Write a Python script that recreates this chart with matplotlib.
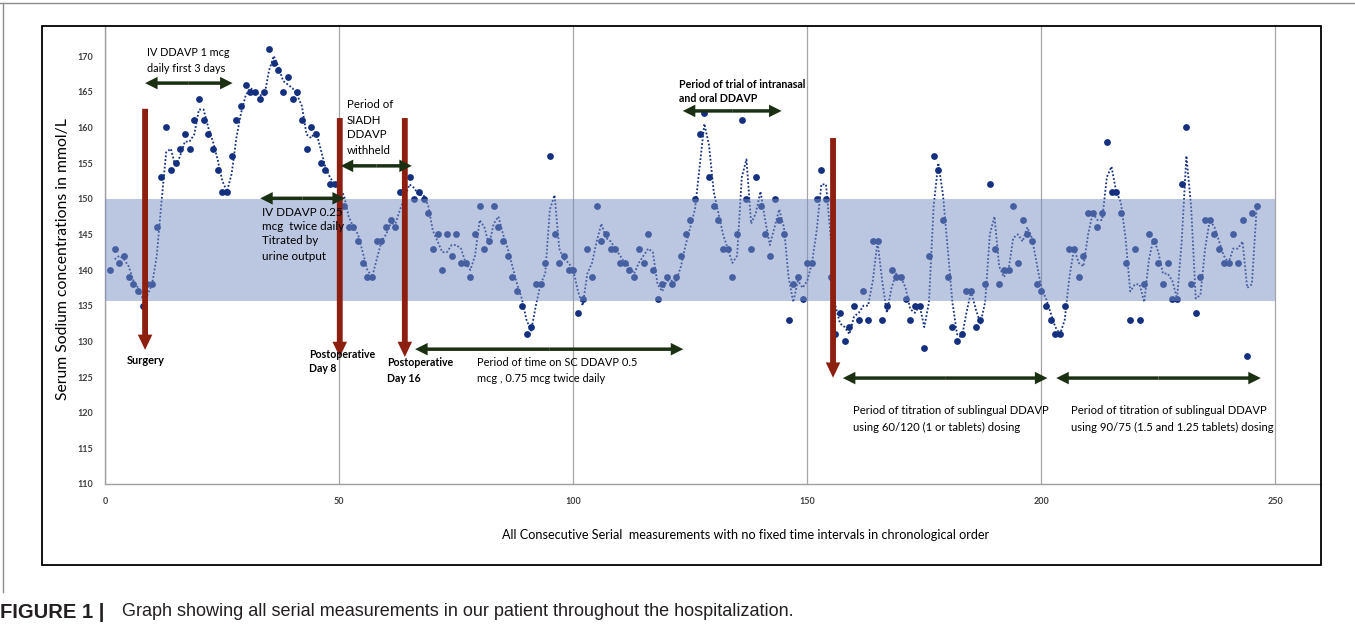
import matplotlib
matplotlib.use('Agg')
import matplotlib.pyplot as plt
import pandas as pd
from matplotlib.patches import Rectangle
from matplotlib.lines import Line2D

W, H = 1355, 631

# ---------------- data ----------------
measurement = list(range(1, 50)) + list(range(51, 64)) + list(range(65, 247))
sodium = [
    140, 143, 141, 142, 139, 138, 137, 135, 138, 138,
    146, 153, 160, 154, 155, 157, 159, 157, 161, 164,
    161, 159, 157, 154, 151, 151, 156, 161, 163, 166,
    165, 165, 164, 165, 171, 169, 168, 165, 167, 164,
    165, 161, 157, 160, 159, 155, 154, 152, 152,
    149, 146, 146, 144, 141, 139, 139, 144, 144, 146, 147, 146, 151,
    153, 150, 151, 150, 148, 143, 145, 140, 145, 142,
    145, 141, 141, 139, 145, 149, 143, 144, 149, 146,
    144, 142, 139, 137, 135, 131, 132, 138, 138, 141,
    156, 145, 141, 142, 140, 140,
    134, 136, 143, 139, 149, 144, 145, 143, 143, 141,
    141, 140, 139, 143, 141, 145, 140, 136, 138, 139,
    138, 139, 142, 145, 147, 150, 159, 162, 153, 149,
    147, 143, 143, 139, 145, 161, 150, 143, 153, 149,
    145, 142, 150, 147, 145, 133, 138, 139, 136, 141,
    141, 150, 154, 150, 139, 131, 134, 130, 132, 135,
    133, 137, 133, 144, 144, 133, 135, 140, 139, 139,
    136, 133, 135, 135, 129, 142, 156, 154, 147, 139,
    132, 130, 131, 137, 137, 132, 133, 138, 152, 143,
    138, 140, 140, 149, 141, 147, 145, 144, 138, 137,
    135, 133, 131, 131, 135, 143, 143, 139, 142, 148,
    148, 146, 148, 158, 151, 151, 148, 141, 133, 143,
    133, 138, 145, 144, 141, 138, 141, 136, 136, 152,
    160, 138, 134, 139, 147, 147, 145, 143, 141, 141,
    145, 141, 147, 128, 148, 149,
]
x_ticks = [0, 50, 100, 150, 200, 250]
y_ticks = list(range(110, 171, 5))
normal_low, normal_high = 135.6, 150.0
band_x = [0, 250]

# event arrows (x, top, tip)
event_x = [8.5, 50.1, 64.0, 155.5]
event_top = [162.6, 161.3, 161.3, 158.5]
event_tip = [128.8, 127.8, 127.8, 124.9]

# period double arrows (start, end, level)
period_start = [8.5, 33.1, 50.3, 66.2, 123.4, 157.6, 203.2]
period_end = [27.2, 51.2, 65.5, 123.5, 144.5, 201.3, 246.9]
period_level = [166.2, 150.05, 154.6, 128.9, 162.3, 124.85, 124.85]

# ---------------- figure ----------------
fig = plt.figure(figsize=(W / 100, H / 100), dpi=100)
ax_l, ax_r, ax_t, ax_b = 105.3, 1321, 26, 484
ax = fig.add_axes([ax_l / W, 1 - ax_b / H, (ax_r - ax_l) / W, (ax_b - ax_t) / H])
ax.set_xlim(0, (ax_r - ax_l) / 4.68)
ax.set_ylim(110, 170 + (56 - ax_t) / 7.133)

navy = '#14307f'
ax.plot(measurement, sodium, 'o', color=navy, ms=4.9, mec='none', zorder=3)
ma = pd.Series(sodium).rolling(2).mean()
ax.plot(measurement, ma, color=navy, lw=1.3, ls=(0, (1, 1.1)), zorder=3)
ax.fill_between(band_x, normal_low, normal_high, color='#798ec4', alpha=0.5,
                lw=0, zorder=4)

for s in ['top', 'right']:
    ax.spines[s].set_visible(False)
for s in ['left', 'bottom']:
    ax.spines[s].set_color('#a0a0a0')
    ax.spines[s].set_linewidth(1.0)
ax.set_xticks(x_ticks)
ax.set_yticks(y_ticks)
ax.tick_params(length=0, labelsize=6.5, labelcolor='#404040', pad=9)
for lab in ax.get_xticklabels() + ax.get_yticklabels():
    lab.set_fontweight('bold')
    lab.set_family('Lato')
ax.grid(axis='x', color='#a6a6a6', lw=0.9, zorder=1)
ax.set_axisbelow(True)

red = '#8c1f0f'
for x, top, tip in zip(event_x, event_top, event_tip):
    ax.annotate('', xy=(x, tip), xytext=(x, top),
                arrowprops=dict(arrowstyle='simple,head_length=11,head_width=10.5,tail_width=4.2',
                                mutation_scale=1, color=red, lw=0,
                                shrinkA=0, shrinkB=0), zorder=6)

green = '#1b3012'
for a, b, lev in zip(period_start, period_end, period_level):
    mid = (a + b) / 2
    for end in (a, b):
        ax.annotate('', xy=(end, lev), xytext=(mid, lev),
                    arrowprops=dict(arrowstyle='simple,head_length=9,head_width=9,tail_width=2.5',
                                    mutation_scale=1, color=green, lw=0,
                                    shrinkA=0, shrinkB=0), zorder=6)

# outer chart frame and page frame
fig.add_artist(Rectangle((42 / W, 1 - 565 / H), (1321 - 42) / W, (565 - 26) / H,
                         transform=fig.transFigure, fill=False, ec='black', lw=1.3))
fig.add_artist(Line2D([0, 1], [1 - 3 / H, 1 - 3 / H], transform=fig.transFigure,
                      color='#8c8c8c', lw=1))
fig.add_artist(Line2D([3 / W, 3 / W], [1 - 3 / H, 1 - 592 / H], transform=fig.transFigure,
                      color='#8c8c8c', lw=1))

renderer = fig.canvas.get_renderer()


def put(x, y, s, size=8, weight='normal', family='Lato', ha='left', rot=0, color='black'):
    return fig.text(x / W, 1 - y / H, s, fontsize=size, fontweight=weight, family=family,
                    ha=ha, va='center', rotation=rot, color=color)


def fit_group(lines, ref_idx, target_w, weight='normal', family='Lato', ha='left', rot=0,
              color='black'):
    texts = [put(x, y, s, 10, weight, family, ha, rot, color) for (x, y, s) in lines]
    bb = texts[ref_idx].get_window_extent(renderer)
    w = bb.height if rot else bb.width
    size = 10 * target_w / w
    for t in texts:
        t.set_fontsize(size)
    return texts


# axis titles
fit_group([(63, 259, 'Serum Sodium concentrations in mmol/L')], 0, 283, rot=90, ha='center')
fit_group([(746, 535, 'All Consecutive Serial  measurements with no fixed time intervals in chronological order')],
          0, 487, ha='center')

# annotations (regular)
fit_group([(147, 53, 'IV DDAVP 1 mcg'), (147, 68, 'daily first 3 days')], 0, 82)
fit_group([(262, 212, 'IV DDAVP 0.25'), (262, 227, 'mcg  twice daily'),
           (262, 241, 'Titrated by'), (262, 256, 'urine output')], 1, 82)
fit_group([(347, 104, 'Period of'), (347, 120, 'SIADH'), (347, 135, 'DDAVP'),
           (347, 151, 'withheld')], 3, 44)
fit_group([(477, 363, 'Period of time on SC DDAVP 0.5'),
           (477, 378, 'mcg , 0.75 mcg twice daily')], 0, 159)
fit_group([(853, 410, 'Period of titration of sublingual DDAVP'),
           (853, 427, 'using 60/120 (1 or tablets) dosing')], 0, 196)
fit_group([(1071, 410, 'Period of titration of sublingual DDAVP'),
           (1071, 427, 'using 90/75 (1.5 and 1.25 tablets) dosing')], 0, 196)

# annotations (bold)
fit_group([(679, 84, 'Period of trial of intranasal'), (679, 98, 'and oral DDAVP')], 0, 127,
          weight='bold')
fit_group([(127, 360, 'Surgery')], 0, 38, weight='bold')
fit_group([(309, 354, 'Postoperative'), (309, 369, 'Day 8')], 0, 66, weight='bold')
fit_group([(387, 363, 'Postoperative'), (387, 378, 'Day 16')], 0, 66, weight='bold')

# caption
cap_r = put(122, 612, 'Graph showing all serial measurements in our patient throughout the hospitalization.',
            11, 'normal', 'Liberation Sans', color='#231f20')
w = cap_r.get_window_extent(renderer).width
cap_size = 11 * 668 / w
cap_r.set_fontsize(cap_size)
put(0, 612, 'FIGURE 1 |', cap_size * 1.12, 'bold', 'Liberation Sans', color='#231f20')

fig.savefig('out.png', dpi=100)
